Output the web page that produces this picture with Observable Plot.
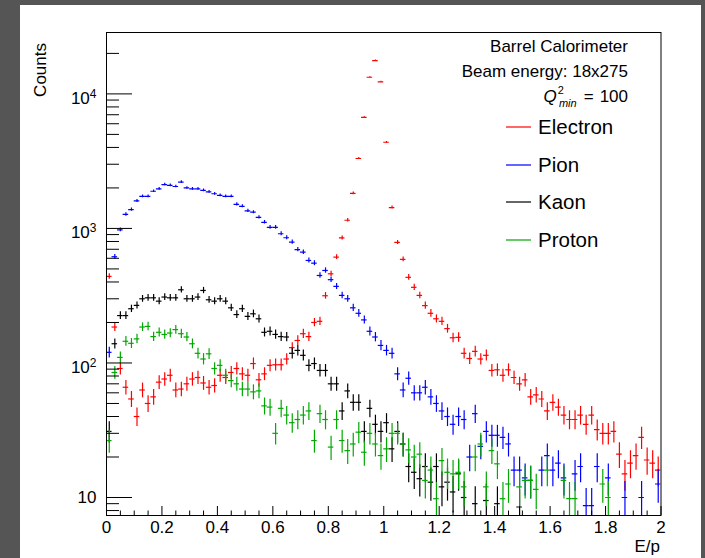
<!DOCTYPE html>
<html>
<head>
<meta charset="utf-8">
<script src="https://cdn.jsdelivr.net/npm/d3@7"></script>
<script src="https://cdn.jsdelivr.net/npm/@observablehq/plot@0.6"></script>
<style>
  html, body { margin: 0; padding: 0; }
  body { width: 705px; height: 558px; background: #555555; position: relative; overflow: hidden; font-family: "Liberation Sans", Arial, Helvetica, sans-serif; }
  #paper { position: absolute; left: 20px; top: 5px; width: 681px; height: 553px; background: #ffffff; }
  #chart { position: absolute; left: 0; top: 0; width: 705px; height: 558px; }
  #chart svg { position: absolute; left: 0; top: 0; }
</style>
</head>
<body>
<div id="paper"></div>
<div id="chart"></div>
<script>
// ---- data (counts per bin, E/p from 0 to 2, bin width 0.02) ----
const binWidth = 0.02;
const electron = [440,185,91,66,54,40,63,50,56,72,
  76,81,63,64,70,76,78,71,66,68,
  81,78,85,91,83,81,99,75,83,96,
  97,97,107,130,147,165,157,200,204,316,
  460,612,851,1150,1820,3310,6680,13300,17700,12300,
  4370,1430,787,589,433,365,318,267,234,213,
  204,180,154,155,118,108,122,107,114,88,
  89,81,89,78,70,75,56,58,54,44,
  51,47,41,38,38,41,35,41,32,30,
  30,31,21,15,18,20.5,28,19,18,16];
const pion = [120,616,977,1270,1380,1600,1730,1730,1890,1970,
  2120,2090,2050,2210,2000,1970,1970,1920,1870,1810,
  1760,1730,1730,1510,1460,1350,1320,1210,1110,1020,
  1020,913,853,791,696,667,578,552,447,487,
  416,371,318,300,257,234,209,172,156,135,
  124,118,83,63,77,60,60,66,56,50,
  44,40,35,40,38,20,42,24,31,29,
  29,28,25,16,16,14,13.4,null,16,20.5,
  16,18,14,null,15,17,8.7,8.7,17,null,
  14,null,null,10,null,null,10,null,null,12.6];
const kaon = [31,139,225,225,253,268,300,305,305,288,
  309,305,305,350,300,300,309,346,295,288,
  300,288,257,229,253,222,232,213,169,172,
  163,157,156,118,124,114,96,99,88,88,
  70,70,44,62,51,51,31,46,35,31,
  36,23,31,25,17,15.4,13.8,17,13,17,
  12,13,11,15,10,null,9,null,9.5,null,
  9,null,null,null,8.5,null,null,null,null,null,
  null,null,null,null,null,null,null,null,null,null,
  null,null,null,null,null,null,null,null,null,null];
const proton = [26.5,85,110,145,140,151,185,187,157,169,
  163,167,177,165,156,139,118,107,117,91,
  96,81,74,70,64,64,61,62,48,47,
  30,46,41,36,38,41,44,26.5,42,38,
  23.7,38,26.5,22.3,25,30.6,21.7,30,25,20.5,
  23,30,30,25,22.6,20,21,13.4,16,9.8,
  18.8,15.4,15,15.4,12,null,20,25,12,22.3,
  17.8,9.8,12.6,null,12,13.4,13.4,11.5,null,16,
  null,null,13.4,9.8,9.8,null,null,null,null,12.6,
  10,null,null,null,null,null,null,null,null,null];

const seriesNames = ["Electron", "Pion", "Kaon", "Proton"];
const seriesValues = [electron, pion, kaon, proton];
const seriesColors = ["#ff0000", "#0000ff", "#000000", "#00a800"];

const xMajorTicks = [0, 0.2, 0.4, 0.6, 0.8, 1, 1.2, 1.4, 1.6, 1.8, 2];
const xTickLabels = ["0", "0.2", "0.4", "0.6", "0.8", "1", "1.2", "1.4", "1.6", "1.8", "2"];
const xMinorTicks = d3.range(0, 41).map(i => i * 0.05).filter(v => Math.abs(v / 0.2 - Math.round(v / 0.2)) > 1e-6);
const yMajorTicks = [10, 100, 1000, 10000];
const yTickLabels = ["10", "10^2", "10^3", "10^4"];
const yMinorTicks = [8, 9, 20, 30, 40, 50, 60, 70, 80, 90, 200, 300, 400, 500, 600, 700, 800, 900,
  2000, 3000, 4000, 5000, 6000, 7000, 8000, 9000, 20000];

const headerLines = ["Barrel Calorimeter", "Beam energy: 18x275"];
const xTitle = "E/p";
const yTitle = "Counts";

// ---- build rows ----
const rowsBySeries = seriesValues.map((arr, s) => {
  const rows = [];
  arr.forEach((v, i) => {
    if (v == null) return;
    const e = Math.sqrt(v);
    rows.push({series: seriesNames[s], x0: i * binWidth, x1: (i + 1) * binWidth, x: (i + 0.5) * binWidth,
      v, lo: v - e, hi: v + e});
  });
  return rows;
});

const dataMarks = [];
rowsBySeries.forEach((rows, s) => {
  dataMarks.push(Plot.ruleX(rows, {x: "x", y1: "lo", y2: "hi", stroke: seriesColors[s], strokeWidth: 1.2, clip: true}));
  dataMarks.push(Plot.ruleY(rows, {y: "v", x1: "x0", x2: "x1", stroke: seriesColors[s], strokeWidth: 1.2, clip: true}));
});

const plot = Plot.plot({
  width: 705,
  height: 558,
  marginLeft: 106,
  marginRight: 44.5,
  marginTop: 32,
  marginBottom: 43,
  x: {domain: [0, 2]},
  y: {type: "log", domain: [7.35, 28600]},
  style: {background: "transparent", color: "black", fontFamily: "'Liberation Sans', Arial, Helvetica, sans-serif", fontSize: "17px", overflow: "visible"},
  marks: [
    ...dataMarks,
    Plot.axisY(yMajorTicks, {tickSize: -26, fill: "none", label: null, strokeWidth: 1}),
    Plot.axisY(yMinorTicks, {tickSize: -13, fill: "none", label: null, strokeWidth: 1}),
    Plot.axisY(yMajorTicks, {tickSize: 0, tickPadding: 10, label: null, fontSize: 17,
      tickFormat: d => yTickLabels[yMajorTicks.indexOf(d)]}),
    Plot.axisX(xMajorTicks, {tickSize: -9, fill: "none", label: null, strokeWidth: 1}),
    Plot.axisX(xMinorTicks, {tickSize: -4.5, fill: "none", label: null, strokeWidth: 1}),
    Plot.axisX(xMajorTicks, {tickSize: 0, tickPadding: 5, label: null, fontSize: 17,
      tickFormat: d => xTickLabels[xMajorTicks.indexOf(d)]}),
    Plot.frame({stroke: "black", strokeWidth: 1})
  ]
});
document.getElementById("chart").appendChild(plot);

// ---- superscripts on the log-axis labels ----
const svg = d3.select(plot);
svg.selectAll("text").each(function() {
  const t = this.textContent;
  if (t && t.startsWith("10^")) {
    const exp = t.slice(3);
    const el = d3.select(this);
    el.text("10");
    el.attr("transform", (el.attr("transform") || "") + " translate(0,4.5)");
    el.append("tspan").attr("dy", "-0.5em").attr("font-size", "12px").text(exp);
  }
});

// ---- header, legend and axis titles ----
const font = "'Liberation Sans', Arial, Helvetica, sans-serif";
const hdr = svg.append("g").attr("font-family", font).attr("fill", "black").attr("text-anchor", "start");
headerLines.forEach((line, i) => {
  hdr.append("text").attr("x", 628).attr("y", 46 + i * 25).attr("dy", "0.35em")
    .attr("text-anchor", "end").attr("font-size", "17px").text(line);
});
const q = hdr.append("text").attr("x", 628).attr("y", 96).attr("dy", "0.35em")
  .attr("text-anchor", "end").attr("font-size", "17px");
q.append("tspan").attr("font-style", "italic").text("Q");
q.append("tspan").attr("font-size", "11px").attr("dx", "1").attr("dy", "-8").text("2");
q.append("tspan").attr("font-size", "11px").attr("font-style", "italic").attr("dx", "-5").attr("dy", "13").text("min");
q.append("tspan").attr("dx", "7").attr("dy", "-5").text("=");
q.append("tspan").attr("dx", "6").text("100");

const legendY = [127, 165, 202, 240];
seriesNames.forEach((name, i) => {
  hdr.append("line").attr("x1", 506).attr("x2", 531).attr("y1", legendY[i]).attr("y2", legendY[i])
    .attr("stroke", seriesColors[i]).attr("stroke-width", 1.2);
  hdr.append("text").attr("x", 538).attr("y", legendY[i]).attr("dy", "0.35em")
    .attr("text-anchor", "start").attr("font-size", "20.5px").text(name);
});

hdr.append("text").attr("transform", "translate(46,43) rotate(-90)")
  .attr("text-anchor", "end").attr("font-size", "17px").text(yTitle);
hdr.append("text").attr("x", 660).attr("y", 552)
  .attr("text-anchor", "end").attr("font-size", "17px").text(xTitle);
</script>
</body>
</html>
